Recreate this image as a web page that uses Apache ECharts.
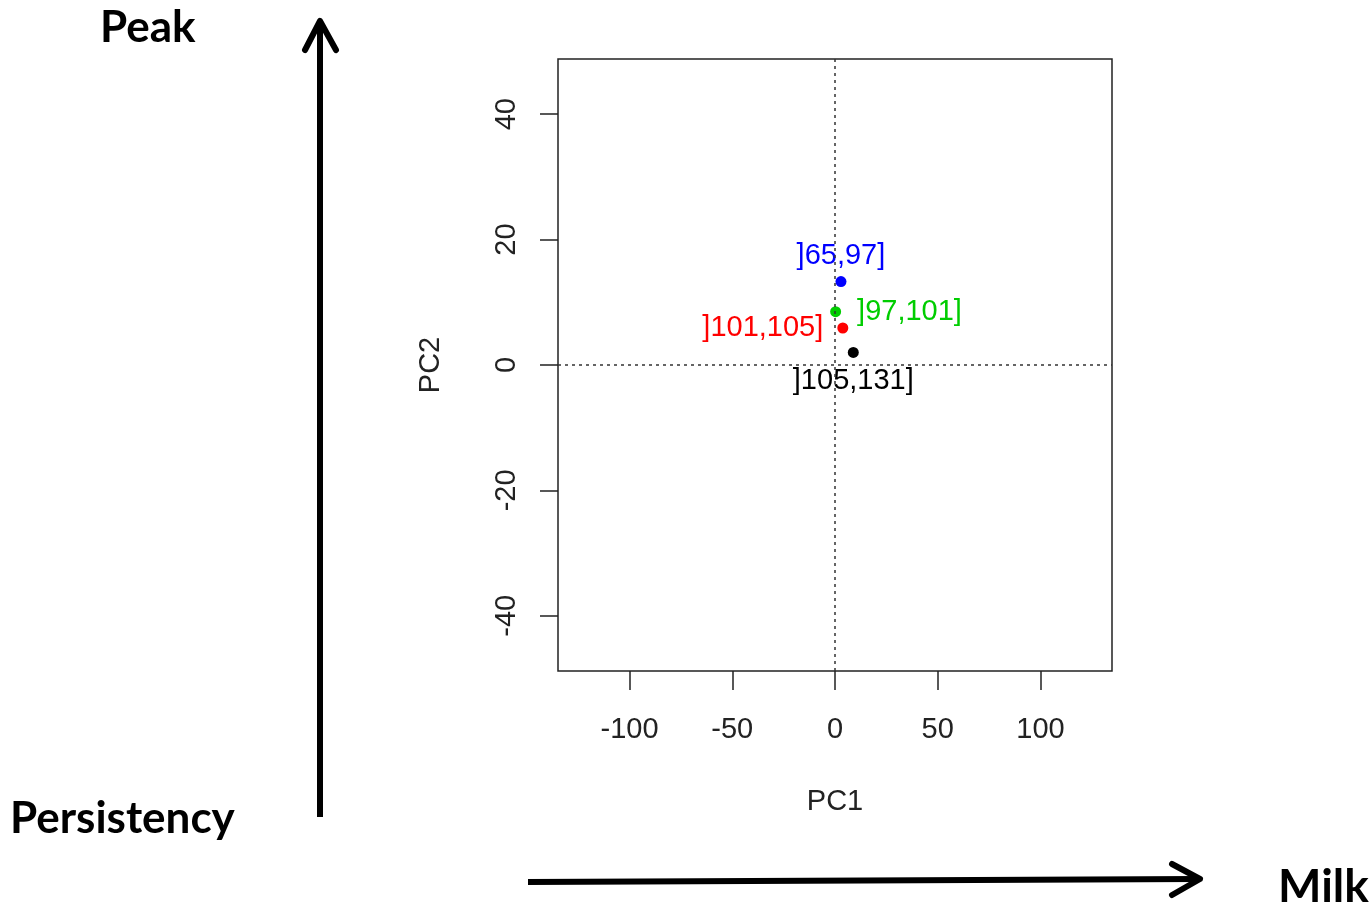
<!DOCTYPE html>
<html>
<head>
<meta charset="utf-8">
<script src="https://cdn.jsdelivr.net/npm/echarts@6/dist/echarts.min.js"></script>
<style>html,body{margin:0;padding:0;background:#fff}#c{width:1370px;height:907px}</style>
</head>
<body>
<div id="c"></div>
<script>
const groups = [']65,97]', ']97,101]', ']101,105]', ']105,131]'];
const pc1 = [2.9, 0.3, 3.8, 8.9];
const pc2 = [13.3, 8.5, 5.9, 2.0];
const colors = ['#0000FF', '#00CD00', '#FF0000', '#000000'];
const labelPos = ['top', 'right', 'left', 'bottom'];
const xTicks = [-100, -50, 0, 50, 100];
const yTicks = [-40, -20, 0, 20, 40];

const chart = echarts.init(document.getElementById('c'));
const font = 'Liberation Sans, Arial, sans-serif';
const distances = { top: 6, right: 16, left: 14, bottom: 9 };
const data = groups.map((g, i) => ({
  value: [pc1[i], pc2[i]],
  name: g,
  itemStyle: { color: colors[i], opacity: 1 },
  label: { position: labelPos[i], color: colors[i], distance: distances[labelPos[i]] }
}));

chart.setOption({
  animation: false,
  grid: { left: 558, right: 258, top: 59, bottom: 236, show: true, borderColor: '#222', borderWidth: 1.5, backgroundColor: 'transparent' },
  xAxis: {
    type: 'value', min: -134.8, max: 134.8,
    name: 'PC1', nameLocation: 'middle', nameGap: 116,
    nameTextStyle: { fontFamily: font, fontSize: 29, color: '#222' },
    axisLine: { show: false, onZero: false },
    splitLine: { show: false },
    axisTick: { show: true, inside: false, length: 19, customValues: xTicks, lineStyle: { color: '#222', width: 1.5 } },
    axisLabel: { customValues: xTicks, margin: 44, fontFamily: font, fontSize: 29, color: '#222' }
  },
  yAxis: {
    type: 'value', min: -48.8, max: 48.8,
    name: 'PC2', nameLocation: 'middle', nameGap: 113, nameRotate: 90,
    nameTextStyle: { fontFamily: font, fontSize: 29, color: '#222' },
    axisLine: { show: false, onZero: false },
    splitLine: { show: false },
    axisTick: { show: true, inside: false, length: 18, customValues: yTicks, lineStyle: { color: '#222', width: 1.5 } },
    axisLabel: { customValues: yTicks, rotate: 90, margin: 37, fontFamily: font, fontSize: 29, color: '#222' }
  },
  series: [{
    type: 'scatter',
    symbolSize: 11,
    data: data,
    label: { show: true, formatter: p => p.name, fontFamily: font, fontSize: 29 },
    markLine: {
      silent: true, symbol: 'none',
      label: { show: false },
      lineStyle: { type: [3, 4], color: '#333', width: 1.5 },
      data: [{ xAxis: 0 }, { yAxis: 0 }]
    }
  }],
  graphic: [
    { type: 'line', shape: { x1: 320, y1: 817, x2: 320, y2: 22 }, style: { stroke: '#000', lineWidth: 6 } },
    { type: 'polyline', shape: { points: [[305, 50], [320, 21], [336, 50]] }, style: { stroke: '#000', lineWidth: 6, fill: null, lineCap: 'round', lineJoin: 'round' } },
    { type: 'line', shape: { x1: 528, y1: 882, x2: 1198, y2: 879 }, style: { stroke: '#000', lineWidth: 6 } },
    { type: 'polyline', shape: { points: [[1172, 864], [1200, 879], [1172, 895]] }, style: { stroke: '#000', lineWidth: 6, fill: null, lineCap: 'round', lineJoin: 'round' } },
    { type: 'text', left: 100, top: 6, style: { text: 'Peak', fontFamily: 'Lato, Open Sans, sans-serif', fontWeight: 'bold', fontSize: 44, fill: '#000' } },
    { type: 'text', left: 10, top: 797, style: { text: 'Persistency', fontFamily: 'Lato, Open Sans, sans-serif', fontWeight: 'bold', fontSize: 44, fill: '#000' } },
    { type: 'text', left: 1278, top: 864, style: { text: 'Milk', fontFamily: 'Lato, Open Sans, sans-serif', fontWeight: 'bold', fontSize: 46, fill: '#000' } }
  ]
});
</script>
</body>
</html>
